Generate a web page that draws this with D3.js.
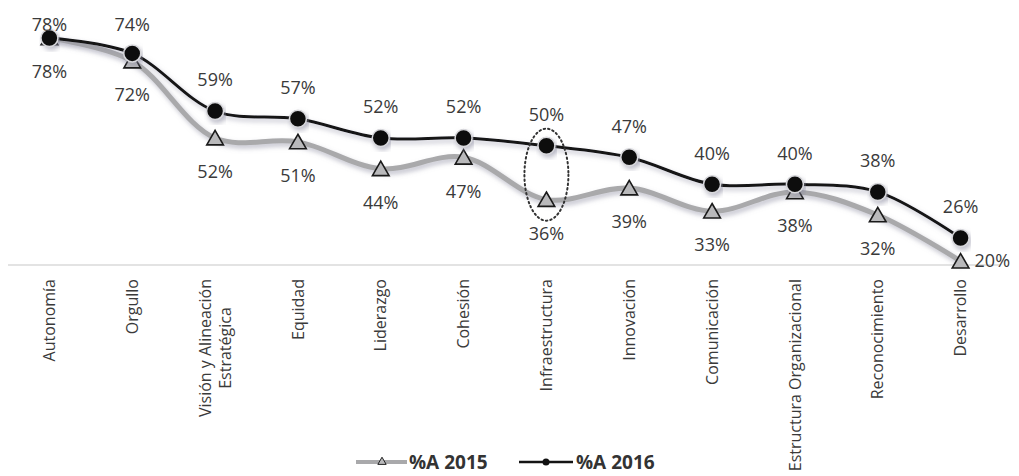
<!DOCTYPE html>
<html>
<head>
<meta charset="utf-8">
<script src="https://cdn.jsdelivr.net/npm/d3@7"></script>
<style>
  body { margin: 0; background: #fff; }
  svg { font-family: "Open Sans", "Noto Sans", sans-serif; }
</style>
</head>
<body>
<div id="chart"></div>
<script>
var categories = ["Autonomía", "Orgullo", "Visión y Alineación|Estratégica", "Equidad", "Liderazgo",
    "Cohesión", "Infraestructura", "Innovación", "Comunicación", "Estructura Organizacional",
    "Reconocimiento", "Desarrollo"];
var values2015 = [78, 72, 52, 51, 44, 47, 36, 39, 33, 38, 32, 20];
var values2016 = [78, 74, 59, 57, 52, 52, 50, 47, 40, 40, 38, 26];
var seriesNames = ["%A 2015", "%A 2016"];

var width = 1019,
    height = 476;

var svg = d3.select("#chart")
    .append("svg")
    .attr("width", width)
    .attr("height", height);

// soft shadow under the lines
var defs = svg.append("defs");
defs.append("filter")
    .attr("id", "shadow")
    .attr("x", "-10%").attr("y", "-30%")
    .attr("width", "120%").attr("height", "160%")
    .append("feDropShadow")
    .attr("dx", 2).attr("dy", 3)
    .attr("stdDeviation", 2.5)
    .attr("flood-color", "#8a8aa0")
    .attr("flood-opacity", 0.55);

var x = d3.scalePoint()
    .domain(categories)
    .range([8, 1002])
    .padding(0.5);

var y = d3.scaleLinear()
    .domain([19, 78])
    .range([265, 38]);

// baseline
svg.append("line")
    .attr("x1", 8).attr("x2", 1000)
    .attr("y1", y(19)).attr("y2", y(19))
    .style("stroke", "#c8c8c8")
    .style("stroke-width", 1.2);

// x labels, rotated
var xl = svg.append("g").selectAll("g")
    .data(categories)
    .enter()
    .append("g")
    .attr("transform", function (d) {
        return "translate(" + x(d) + ",279) rotate(-90)";
    });

xl.each(function (d) {
    var g = d3.select(this);
    var lines = d.split("|");
    if (lines.length == 1) {
        g.append("text")
            .attr("text-anchor", "end")
            .attr("dy", "0.35em")
            .style("font-size", "16px")
            .style("fill", "#3a3a3a")
            .text(d);
    } else {
        var t0 = g.append("text")
            .attr("text-anchor", "end")
            .attr("y", -10)
            .attr("dy", "0.35em")
            .style("font-size", "16px")
            .style("fill", "#3a3a3a")
            .text(lines[0]);
        var len = t0.node().getComputedTextLength();
        t0.attr("text-anchor", "middle").attr("x", -len / 2);
        g.append("text")
            .attr("text-anchor", "middle")
            .attr("x", -len / 2)
            .attr("y", 10)
            .attr("dy", "0.35em")
            .style("font-size", "16px")
            .style("fill", "#3a3a3a")
            .text(lines[1]);
    }
});

var line = d3.line()
    .x(function (d, i) { return x(categories[i]); })
    .y(function (d) { return y(d); })
    .curve(d3.curveCatmullRom.alpha(0.5));

// 2015 series
svg.append("path")
    .datum(values2015)
    .attr("d", line)
    .attr("filter", "url(#shadow)")
    .style("fill", "none")
    .style("stroke", "#a9a9ab")
    .style("stroke-width", 5);

// 2016 series
svg.append("path")
    .datum(values2016)
    .attr("d", line)
    .attr("filter", "url(#shadow)")
    .style("fill", "none")
    .style("stroke", "#141414")
    .style("stroke-width", 3);

var tri = d3.symbol().type(d3.symbolTriangle).size(120);

svg.append("g").selectAll("path")
    .data(values2015)
    .enter()
    .append("path")
    .attr("d", tri)
    .attr("transform", function (d, i) {
        return "translate(" + x(categories[i]) + "," + (y(d) + 2) + ")";
    })
    .style("fill", "#b9b9bb")
    .style("stroke", "#1a1a1a")
    .style("stroke-width", 1.6);

svg.append("g").selectAll("circle")
    .data(values2016)
    .enter()
    .append("circle")
    .attr("cx", function (d, i) { return x(categories[i]); })
    .attr("cy", function (d) { return y(d); })
    .attr("r", 8.5)
    .attr("filter", "url(#shadow)")
    .style("fill", "#111")
    .style("stroke", "#d8d8dc")
    .style("stroke-width", 1.5);

// value labels
svg.append("g").selectAll("text")
    .data(values2016)
    .enter()
    .append("text")
    .attr("x", function (d, i) { return x(categories[i]); })
    .attr("y", function (d) { return Math.max(25, y(d) - 31); })
    .attr("dy", "0.35em")
    .attr("text-anchor", "middle")
    .style("font-size", "18px")
    .style("fill", "#3a3a3a")
    .text(function (d) { return d + "%"; });

svg.append("g").selectAll("text")
    .data(values2015)
    .enter()
    .append("text")
    .attr("x", function (d, i) {
        return i == values2015.length - 1 ? x(categories[i]) + 14 : x(categories[i]);
    })
    .attr("y", function (d, i) {
        return i == values2015.length - 1 ? y(d) : y(d) + 34;
    })
    .attr("dy", "0.35em")
    .attr("text-anchor", function (d, i) {
        return i == values2015.length - 1 ? "start" : "middle";
    })
    .style("font-size", "18px")
    .style("fill", "#3a3a3a")
    .text(function (d) { return d + "%"; });

// dotted highlight around Infraestructura
svg.append("ellipse")
    .attr("cx", x("Infraestructura"))
    .attr("cy", (y(values2016[6]) + y(values2015[6])) / 2 + 2)
    .attr("rx", 22)
    .attr("ry", 46)
    .style("fill", "none")
    .style("stroke", "#333")
    .style("stroke-width", 2)
    .style("stroke-dasharray", "1.5,3")
    .style("stroke-linecap", "round");

// legend
var legend = svg.append("g").attr("transform", "translate(0,462)");

legend.append("line")
    .attr("x1", 356).attr("x2", 407)
    .style("stroke", "#a9a9ab").style("stroke-width", 4);
legend.append("path")
    .attr("d", d3.symbol().type(d3.symbolTriangle).size(30))
    .attr("transform", "translate(382,0)")
    .style("fill", "#b9b9bb").style("stroke", "#222").style("stroke-width", 1);
legend.append("text")
    .attr("x", 409).attr("dy", "0.35em")
    .style("font-size", "19px").style("font-weight", "bold").style("fill", "#333")
    .text(seriesNames[0]);

legend.append("line")
    .attr("x1", 519).attr("x2", 573)
    .style("stroke", "#141414").style("stroke-width", 2.5);
legend.append("circle")
    .attr("cx", 546).attr("r", 3.5)
    .style("fill", "#111");
legend.append("text")
    .attr("x", 576).attr("dy", "0.35em")
    .style("font-size", "19px").style("font-weight", "bold").style("fill", "#333")
    .text(seriesNames[1]);
</script>
</body>
</html>
